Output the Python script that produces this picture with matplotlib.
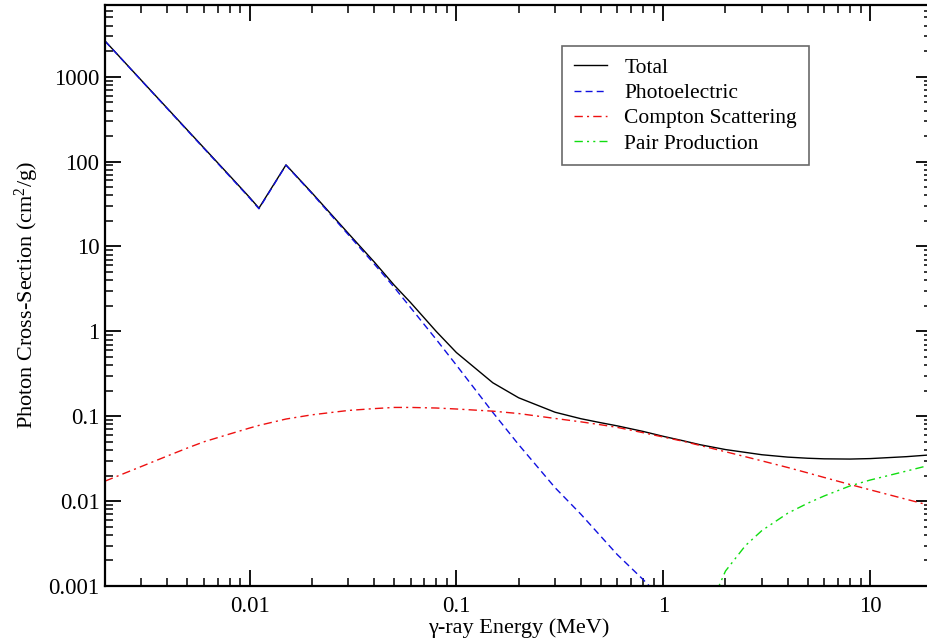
import matplotlib
matplotlib.use("Agg")
import matplotlib.pyplot as plt
from matplotlib.ticker import FixedLocator, FixedFormatter, LogLocator, NullFormatter

# Photon energy grid (MeV)
energy = [0.002, 0.003, 0.004, 0.005, 0.006, 0.008, 0.01, 0.0111, 0.015,
          0.02, 0.03, 0.04, 0.05, 0.06, 0.08, 0.1, 0.15, 0.2, 0.3, 0.4,
          0.5, 0.6, 0.8, 1.0, 1.25, 1.5, 2.0, 3.0, 4.0, 5.0, 6.0, 8.0,
          10.0, 15.0, 20.0]

# Mass attenuation coefficients (cm^2/g)
total = [2640, 905, 425, 236, 146, 68.5, 37.9, 28.3, 91.5,
         43.0, 14.3, 6.6, 3.51, 2.19, 0.995, 0.563, 0.248, 0.165, 0.1115, 0.0935,
         0.0838, 0.0770, 0.0662, 0.0580, 0.0514, 0.0463, 0.0405, 0.0352, 0.0330, 0.0320, 0.0315, 0.0313,
         0.0317, 0.0334, 0.0352]

photoelectric = [2630, 900, 421, 233, 144, 67.4, 37.3, 27.8, 90.8,
                 42.3, 13.8, 6.25, 3.31, 1.91, 0.80, 0.40, 0.111, 0.0463, 0.0144, 0.0070,
                 0.00383, 0.00234, 0.00119, 0.00068, 0.00036, 0.00022, 0.00011, 0.00005, 0.00003, 0.00002, 0.000015, 0.00001,
                 0.000008, 0.000005, 0.000004]

compton = [0.0172, 0.0256, 0.034, 0.0422, 0.0499, 0.0617, 0.0726, 0.078, 0.0927,
           0.1039, 0.117, 0.123, 0.127, 0.127, 0.125, 0.1217, 0.1148, 0.1076, 0.0942, 0.0859,
           0.0793, 0.0739, 0.064, 0.0569, 0.0507, 0.0454, 0.0382, 0.0298, 0.0249, 0.0215, 0.019, 0.0157,
           0.0136, 0.0105, 0.00875]

pair_energy = [1.25, 1.5, 2.0, 2.5, 3.0, 4.0, 5.0, 6.0, 8.0, 10.0, 15.0, 20.0]
pair = [0.00003, 0.0003, 0.00150, 0.00300, 0.00450, 0.0072, 0.00945, 0.0115, 0.0151, 0.0177, 0.0226, 0.027]

xtick_values = [0.01, 0.1, 1, 10]
xtick_labels = ["0.01", "0.1", "1", "10"]
ytick_values = [0.001, 0.01, 0.1, 1, 10, 100, 1000]
ytick_labels = ["0.001", "0.01", "0.1", "1", "10", "100", "1000"]

plt.rcParams["font.family"] = ["Liberation Serif", "DejaVu Serif"]
plt.rcParams["mathtext.fontset"] = "custom"
plt.rcParams["mathtext.rm"] = "Liberation Serif"
plt.rcParams["mathtext.it"] = "Liberation Serif:italic"

fig = plt.figure(figsize=(9.27, 6.43), dpi=100)
ax = fig.add_axes([105 / 927, 57 / 643, 827.3 / 927, 581 / 643])

ax.plot(energy, total, color="black", lw=1.0, label="Total")
ax.plot(energy, photoelectric, color="#1010e0", lw=1.0, ls=(0, (5, 3)), label="Photoelectric")
ax.plot(energy, compton, color="#ee1010", lw=1.0, ls=(0, (6, 3, 1.5, 3)), label="Compton Scattering")
ax.plot(pair_energy, pair, color="#10dd10", lw=1.0, ls=(0, (6, 3, 1.5, 3, 1.5, 3)), label="Pair Production")

ax.set_xscale("log")
ax.set_yscale("log")
ax.set_xlim(0.002, 20)
ax.set_ylim(0.001, 7000)

ax.xaxis.set_major_locator(FixedLocator(xtick_values))
ax.xaxis.set_major_formatter(FixedFormatter(xtick_labels))
ax.yaxis.set_major_locator(FixedLocator(ytick_values))
ax.yaxis.set_major_formatter(FixedFormatter(ytick_labels))
ax.xaxis.set_minor_locator(LogLocator(base=10, subs=range(2, 10), numticks=50))
ax.yaxis.set_minor_locator(LogLocator(base=10, subs=range(2, 10), numticks=50))
ax.xaxis.set_minor_formatter(NullFormatter())
ax.yaxis.set_minor_formatter(NullFormatter())

ax.tick_params(which="both", direction="in", top=True, right=True, color="black")
ax.tick_params(which="major", length=11.5, width=1.3, labelsize=16.5)
ax.tick_params(which="minor", length=6, width=1.1)
ax.tick_params(axis="x", which="major", pad=7)
ax.tick_params(axis="y", which="major", pad=4)
for sp in ax.spines.values():
    sp.set_linewidth(1.6)

ax.set_xlabel("γ-ray Energy (MeV)", fontsize=16, va="center")
ax.xaxis.set_label_coords(0.5, (586 - 628) / 581)
ax.set_ylabel("Photon Cross-Section (cm$^{2}$/g)", fontsize=16, va="center")
ax.yaxis.set_label_coords((27 - 105) / 827.3, 0.5)

leg = ax.legend(loc="upper left", bbox_to_anchor=((562 - 105) / 827.3, (586 - 46) / 581),
                borderaxespad=0, fontsize=15.5, frameon=True, fancybox=False,
                edgecolor="#444444", handlelength=1.55, handletextpad=0.8,
                labelspacing=0.24, borderpad=0.55)
leg.get_frame().set_linewidth(1.2)

fig.savefig("out.png", dpi=100)
